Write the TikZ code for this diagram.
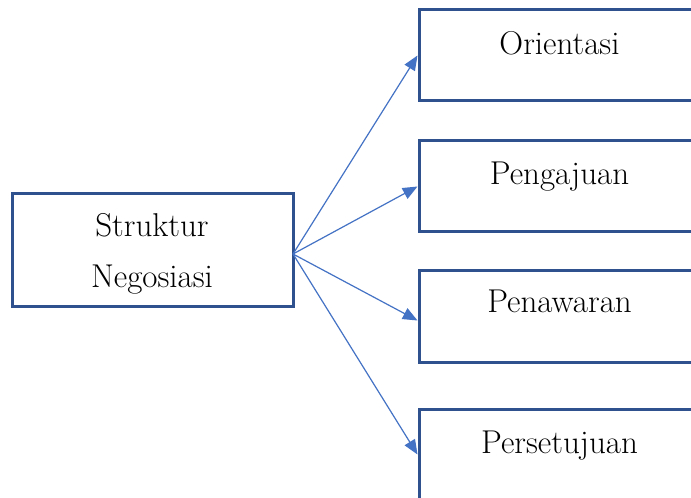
\documentclass[tikz,border=0pt]{standalone}
\usetikzlibrary{arrows.meta}
\definecolor{boxblue}{HTML}{2F528F}
\definecolor{arrowblue}{HTML}{4472C4}
\begin{document}
\begin{tikzpicture}[x=0.75pt,y=-0.75pt,
  box/.style={draw=boxblue,line width=2.25pt,minimum width=281*0.75pt,inner sep=0pt,fill=white},
  lbl/.style={anchor=base,inner sep=0pt,font=\fontsize{24.75}{38.25}\selectfont},
  conn/.style={draw=arrowblue,line width=0.9pt,-{Triangle[length=11pt,width=9pt]}}]
\useasboundingbox (0,0) rectangle (691,498);
\clip (0,0) rectangle (691,498);
\fill[white] (0,0) rectangle (691,498);
% left box
\node[box,minimum height=113*0.75pt] (s) at (152.5,250.5) {};
\node[lbl] (s1) at (152,237) {Struktur};
\node[lbl] (s2) at (152,288) {Negosiasi};
% right boxes
\node[box,minimum height=91*0.75pt] (b1) at (559.5,55.5) {};
\node[lbl] (t1) at (559.5,55) {Orientasi};
\node[box,minimum height=91*0.75pt] (b2) at (559.5,186.5) {};
\node[lbl] (t2) at (559.5,185) {Pengajuan};
\node[box,minimum height=91*0.75pt] (b3) at (559.5,316.5) {};
\node[lbl] (t3) at (559.5,313) {Penawaran};
\node[box,minimum height=91*0.75pt] (b4) at (559.5,454.5) {};
\node[lbl] (t4) at (559.5,453) {Persetujuan};
% connectors
\coordinate (o) at (293,254);
\draw[conn] (o) -- (b1.west);
\draw[conn] (o) -- (b2.west);
\draw[conn] (o) -- ([yshift=-3pt]b3.west);
\draw[conn] (o) -- (b4.west);
\end{tikzpicture}
\end{document}
